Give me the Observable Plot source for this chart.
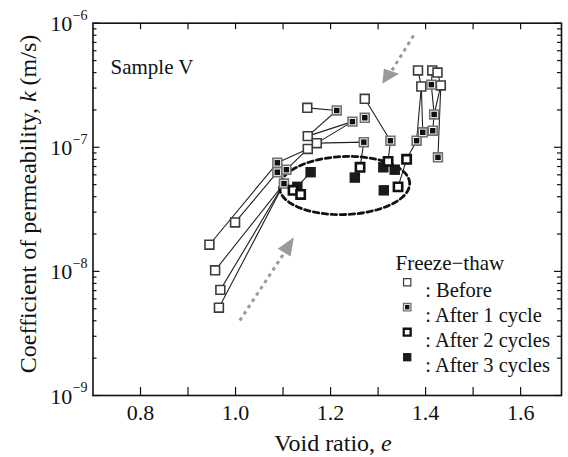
<!DOCTYPE html>
<html><head><meta charset="utf-8">
<script src="https://cdn.jsdelivr.net/npm/d3@7"></script>
<script src="https://cdn.jsdelivr.net/npm/@observablehq/plot@0.6"></script>
<style>body{margin:0;background:#fff} #chart{width:568px;height:457px}
svg text{font-family:"Liberation Serif","Times New Roman",Times,"Nimbus Roman","DejaVu Serif",serif !important;}</style>
</head><body><div id="chart"></div>
<script>
// ---- data: [void ratio e, permeability k (m/s)] ----
const before = [[0.945,1.64e-8],[0.999,2.48e-8],[0.957,1.02e-8],[0.968,7.1e-9],[0.965,5.1e-9],
  [1.151,2.08e-7],[1.152,1.23e-7],[1.171,1.08e-7],[1.152,9.7e-8],
  [1.272,2.46e-7],[1.384,4.16e-7],[1.414,4.16e-7],[1.425,4.0e-7],[1.391,3.09e-7],[1.432,3.15e-7]];
const after1 = [[1.088,7.5e-8],[1.088,6.3e-8],[1.107,6.6e-8],[1.102,5.1e-8],
  [1.213,1.98e-7],[1.246,1.61e-7],[1.272,1.73e-7],[1.270,1.1e-7],
  [1.326,1.13e-7],[1.381,1.13e-7],[1.394,1.32e-7],[1.415,1.36e-7],[1.418,1.84e-7],[1.412,3.2e-7],[1.426,8.3e-8]];
const after2 = [[1.121,4.5e-8],[1.137,4.17e-8],[1.262,6.9e-8],[1.321,7.7e-8],[1.360,8.0e-8],[1.342,4.8e-8]];
const after3 = [[1.130,4.8e-8],[1.158,6.3e-8],[1.251,5.7e-8],[1.311,6.9e-8],[1.335,6.6e-8],[1.312,4.5e-8]];
const chains = [
  [[0.945,1.64e-8],[1.088,7.5e-8],[1.152,9.7e-8],[1.107,6.6e-8]],
  [[0.999,2.48e-8],[1.088,6.3e-8]],
  [[0.957,1.02e-8],[1.102,5.1e-8]],
  [[0.968,7.1e-9],[1.102,5.1e-8]],
  [[0.965,5.1e-9],[1.102,5.1e-8]],
  [[1.151,2.08e-7],[1.213,1.98e-7],[1.152,1.23e-7],[1.246,1.61e-7],[1.171,1.08e-7],[1.270,1.1e-7],[1.262,6.9e-8]],
  [[1.130,4.8e-8],[1.158,6.3e-8]],
  [[1.272,2.46e-7],[1.326,1.13e-7],[1.321,7.7e-8]],
  [[1.384,4.16e-7],[1.391,3.09e-7],[1.394,1.32e-7]],
  [[1.391,3.09e-7],[1.381,1.13e-7],[1.360,8.0e-8],[1.342,4.8e-8]],
  [[1.414,4.16e-7],[1.412,3.2e-7],[1.418,1.84e-7],[1.415,1.36e-7]],
  [[1.425,4.0e-7],[1.432,3.15e-7],[1.426,8.3e-8]],
  [[1.432,3.15e-7],[1.418,1.84e-7]]
];
// annotation arrows: tail -> head base, head triangle (tip, corner, corner)
const arrowLines = [
  {e1:1.009,k1:4.02e-9,e2:1.1025,k2:1.41e-8},
  {e1:1.3747,k1:7.96e-7,e2:1.328,k2:4.10e-7}
];
const arrowHeads = [
  [[1.1227,1.886e-8],[1.0889,1.52e-8],[1.1158,1.318e-8]],
  [[1.3088,3.25e-7],[1.3122,4.29e-7],[1.3438,3.91e-7]]
];
// dashed ellipse annotation: centre (e, log10 k), half-widths
const ellipseCentre = [1.2295,-7.308];
const ellipseRadii = [0.137,0.234];
const ellipseTilt = 0.015;

const xTicks = [0.8,1.0,1.2,1.4,1.6];
const xMinorTicks = [0.8,0.9,1.0,1.1,1.2,1.3,1.4,1.5,1.6];
const yTicks = [1e-9,1e-8,1e-7,1e-6];
const yExponents = ["\u22129","\u22128","\u22127","\u22126"];
const legendTitle = "Freeze\u2212thaw";
const legendLabels = [": Before",": After 1 cycle",": After 2 cycles",": After 3 cycles"];
const sampleLabel = "Sample V";

// ---- layout ----
const W=568,H=457,mL=92.5,mR=7,mT=22.7,mB=62;
const FH=H-mT-mB, FW=W-mL-mR;
const serif='"Liberation Serif","Times New Roman",Times,"Nimbus Roman","DejaVu Serif",serif';

const rows=(arr)=>arr.map(([e,k])=>({e,k}));
const chainRows=chains.flatMap((c,i)=>c.map(([e,k])=>({id:i,e,k})));
const headRows=arrowHeads.flatMap((h,i)=>h.map(([e,k])=>({id:i,e,k})));
const yMinor=[];
for (const d of [1e-9,1e-8,1e-7]) for (let m=2;m<=9;m++) yMinor.push(d*m);
const ellRows=d3.range(0,361,4).map(a=>{const t=a*Math.PI/180;
  return {e:ellipseCentre[0]+ellipseRadii[0]*Math.cos(t),
          k:Math.pow(10,ellipseCentre[1]+ellipseRadii[1]*Math.sin(t)+ellipseTilt*Math.cos(t))};});

const sq="square";
const legendMarks=[];
const legX=314.2, legY0=259, legDY=25;
const styles=[
  [{r:4.1,fill:"white",stroke:"#3c3c3c",strokeWidth:1.2}],
  [{r:4.2,fill:"white",stroke:"#707070",strokeWidth:1.3},{r:2.5,fill:"#111",stroke:"none"}],
  [{r:3.9,fill:"white",stroke:"#111",strokeWidth:2.3}],
  [{r:4.7,fill:"#1b1b1b",stroke:"none"}]
];
styles.forEach((st,i)=>{
  st.forEach(s=>legendMarks.push(Plot.dot([0],{frameAnchor:"top-left",dx:legX,dy:legY0+legDY*i,symbol:sq,...s})));
  legendMarks.push(Plot.text([legendLabels[i]],{text:d=>d,frameAnchor:"top-left",dx:legX+18,dy:legY0+legDY*i,textAnchor:"start",fontSize:20.5,fill:"#111"}));
});

const svg = Plot.plot({
  width:W,height:H,marginLeft:mL,marginRight:mR,marginTop:mT,marginBottom:mB,
  style:{fontFamily:serif,fontSize:"22px",color:"#111",background:"white"},
  x:{domain:[0.7,1.686],ticks:xTicks,tickFormat:d3.format(".1f"),tickSize:0,tickPadding:9,label:null},
  y:{type:"log",domain:[1e-9,1e-6],axis:null},
  marks:[
    Plot.ruleX(xMinorTicks,{x:d=>d,insetTop:FH-8,stroke:"#111",strokeWidth:1.2}),
    Plot.ruleX(xMinorTicks,{x:d=>d,insetBottom:FH-6.5,stroke:"#111",strokeWidth:1.2}),
    Plot.ruleY(yTicks,{y:d=>d,insetRight:FW-7,stroke:"#111",strokeWidth:1.2}),
    Plot.ruleY(yMinor,{y:d=>d,insetRight:FW-4,stroke:"#111",strokeWidth:1.2}),
    Plot.ruleY(yTicks,{y:d=>d,insetLeft:FW-7,stroke:"#111",strokeWidth:1.2}),
    Plot.ruleY(yMinor,{y:d=>d,insetLeft:FW-4,stroke:"#111",strokeWidth:1.2}),
    Plot.frame({stroke:"#111",strokeWidth:1.6}),
    Plot.text(yTicks,{y:d=>d,text:()=>"10",frameAnchor:"left",textAnchor:"end",dx:-20.8,dy:1,fontSize:22,fill:"#111"}),
    Plot.text(yTicks,{y:d=>d,text:(d,i)=>yExponents[i],frameAnchor:"left",textAnchor:"start",dx:-20.3,dy:-8,fontSize:14,fill:"#111"}),
    Plot.line(chainRows,{x:"e",y:"k",z:"id",stroke:"#222",strokeWidth:1.1}),
    Plot.line(ellRows,{x:"e",y:"k",stroke:"#111",strokeWidth:2.8,strokeDasharray:"5.5,3.5"}),
    Plot.link(arrowLines,{x1:"e1",y1:"k1",x2:"e2",y2:"k2",stroke:"#9a9a9a",strokeWidth:3,strokeDasharray:"3.5,4"}),
    Plot.line(headRows,{x:"e",y:"k",z:"id",fill:"#9a9a9a",stroke:"none"}),
    Plot.dot(rows(before),{x:"e",y:"k",symbol:sq,r:5,fill:"white",stroke:"#3c3c3c",strokeWidth:1.6}),
    Plot.dot(rows(after1),{x:"e",y:"k",symbol:sq,r:5,fill:"white",stroke:"#707070",strokeWidth:1.6}),
    Plot.dot(rows(after1),{x:"e",y:"k",symbol:sq,r:3.1,fill:"#111",stroke:"none"}),
    Plot.dot(rows(after3),{x:"e",y:"k",symbol:sq,r:5.9,fill:"#1b1b1b",stroke:"none"}),
    Plot.dot(rows(after2),{x:"e",y:"k",symbol:sq,r:4.7,fill:"white",stroke:"#111",strokeWidth:2.6}),
    Plot.text([sampleLabel],{text:d=>d,frameAnchor:"top-left",textAnchor:"start",dx:17.5,dy:35.6,fontSize:21,fill:"#111"}),
    Plot.text([legendTitle],{text:d=>d,frameAnchor:"top-left",textAnchor:"start",dx:302.5,dy:232.3,fontSize:21,fill:"#111"}),
    ...legendMarks
  ]
});

const s=d3.select(svg);
const xl=s.append("text").attr("x",333).attr("y",451).attr("text-anchor","middle")
  .attr("font-size",24).attr("fill","#111");
xl.append("tspan").text("Void ratio, ");
xl.append("tspan").attr("font-style","italic").text("e");
const yl=s.append("text").attr("transform","translate(36,204) rotate(-90)").attr("text-anchor","middle")
  .attr("font-size",24).attr("fill","#111");
yl.append("tspan").text("Coefficient of permeability, ");
yl.append("tspan").attr("font-style","italic").text("k");
yl.append("tspan").text(" (m/s)");

document.getElementById("chart").appendChild(svg);
</script></body></html>
